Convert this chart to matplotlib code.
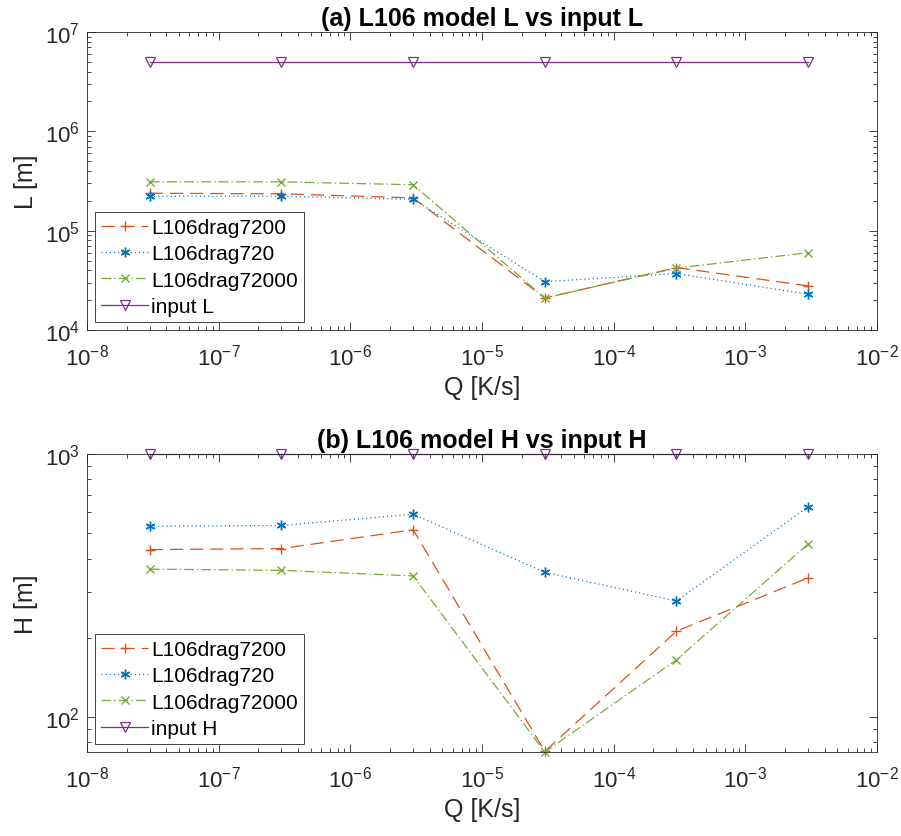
import numpy as np
import matplotlib
matplotlib.use("Agg")
import matplotlib.pyplot as plt
from matplotlib.ticker import FixedLocator, NullFormatter, LogFormatterMathtext

plt.rcParams['font.family'] = ['Liberation Sans', 'DejaVu Sans']
plt.rcParams['mathtext.fontset'] = 'custom'
plt.rcParams['mathtext.rm'] = 'Liberation Sans'
plt.rcParams['mathtext.it'] = 'Liberation Sans:italic'
plt.rcParams['mathtext.bf'] = 'Liberation Sans:bold'
plt.rcParams['lines.scale_dashes'] = False

Q = [3e-8, 3e-7, 3e-6, 3e-5, 3e-4, 3e-3]

L_7200 = [2.38e5, 2.35e5, 2.14e5, 2.1e4, 4.25e4, 2.78e4]
L_720 = [2.22e5, 2.22e5, 2.07e5, 3.07e4, 3.7e4, 2.29e4]
L_72000 = [3.1e5, 3.1e5, 2.9e5, 2.1e4, 4.2e4, 6.0e4]
L_input = [5e6, 5e6, 5e6, 5e6, 5e6, 5e6]

H_7200 = [433, 437, 515, 74, 212, 338]
H_720 = [531, 535, 590, 355, 276, 630]
H_72000 = [365, 361, 344, 73.6, 165, 455]
H_input = [1000, 1000, 1000, 1000, 1000, 1000]

series_names = ['L106drag7200', 'L106drag720', 'L106drag72000']

x_major = [1e-8, 1e-7, 1e-6, 1e-5, 1e-4, 1e-3, 1e-2]

c_or = (0.85, 0.325, 0.098)
c_bl = (0.0, 0.447, 0.741)
c_gr = (0.466, 0.674, 0.188)
c_pu = (0.494, 0.184, 0.556)
axc = (0.15, 0.15, 0.15)

W, H = 901, 837
fig = plt.figure(figsize=(W/100, H/100), dpi=100)

def make_ax(top, bottom):
    return fig.add_axes([87/W, 1 - bottom/H, (877-87)/W, (bottom-top)/H])

ax1 = make_ax(33, 331)
ax2 = make_ax(455, 753)

def log_minor(lo_exp, hi_exp):
    return [m * 10.0**e for e in range(lo_exp, hi_exp) for m in range(2, 10)]

def draw(ax, s1, s2, s3, sin, inname, ylab, title, ylim, ymaj, ymin_ticks):
    lw = 0.9
    ax.plot(Q, s1, linestyle=(0, (9.5, 5)), color=c_or, marker='+', ms=7, mew=1.0, lw=lw,
            label=series_names[0], clip_on=False)
    ax.plot(Q, s2, linestyle=(0, (0.8, 2.2)), color=c_bl, marker=(6, 2, 0), ms=7, mew=1.0, lw=lw,
            label=series_names[1], clip_on=False)
    ax.plot(Q, s3, linestyle=(0, (7, 2.2, 1, 2.2)), color=c_gr, marker='x', ms=5.5, mew=1.0, lw=lw,
            label=series_names[2], clip_on=False)
    ax.plot(Q, sin, linestyle='-', color=c_pu, marker='v', ms=7.5, mew=0.9, mfc='none', lw=lw,
            label=inname, clip_on=False)
    ax.set_xscale('log')
    ax.set_yscale('log')
    ax.set_xlim(1e-8, 1e-2)
    ax.set_ylim(*ylim)
    ax.xaxis.set_major_locator(FixedLocator(x_major))
    ax.xaxis.set_major_formatter(LogFormatterMathtext())
    ax.xaxis.set_minor_locator(FixedLocator(log_minor(-8, -2)))
    ax.xaxis.set_minor_formatter(NullFormatter())
    ax.yaxis.set_major_locator(FixedLocator(ymaj))
    ax.yaxis.set_major_formatter(LogFormatterMathtext())
    ax.yaxis.set_minor_locator(FixedLocator(ymin_ticks))
    ax.yaxis.set_minor_formatter(NullFormatter())
    ax.tick_params(which='both', direction='in', top=True, right=True, colors=axc, labelsize=16, width=0.6)
    ax.tick_params(which='major', length=6)
    ax.tick_params(which='minor', length=3)
    ax.tick_params(axis='x', which='major', pad=10)
    ax.tick_params(axis='y', which='major', pad=5)
    for sp in ax.spines.values():
        sp.set_color(axc)
        sp.set_linewidth(0.6)
    ax.set_xlabel('Q [K/s]', fontsize=18, color=axc, labelpad=4)
    ax.set_ylabel(ylab, fontsize=18, color=axc, labelpad=5)
    ax.set_title(title, fontsize=18, fontweight='bold', color='black', pad=5)
    leg = ax.legend(loc='lower left', fontsize=15, fancybox=False, framealpha=1,
                    edgecolor=axc, borderpad=0.3, labelspacing=0.35, handlelength=2.25,
                    handletextpad=0.15, borderaxespad=0.38)
    leg.get_frame().set_linewidth(0.6)
    for t in leg.get_texts():
        t.set_color('black')

draw(ax1, L_7200, L_720, L_72000, L_input, 'input L', 'L [m]', '(a) L106 model L vs input L',
     (1e4, 1e7), [1e4, 1e5, 1e6, 1e7], log_minor(4, 7))
draw(ax2, H_7200, H_720, H_72000, H_input, 'input H', 'H [m]', '(b) L106 model H vs input H',
     (73.6, 1000), [1e2, 1e3], [80, 90] + log_minor(2, 3))

fig.savefig('out.png', dpi=100)
